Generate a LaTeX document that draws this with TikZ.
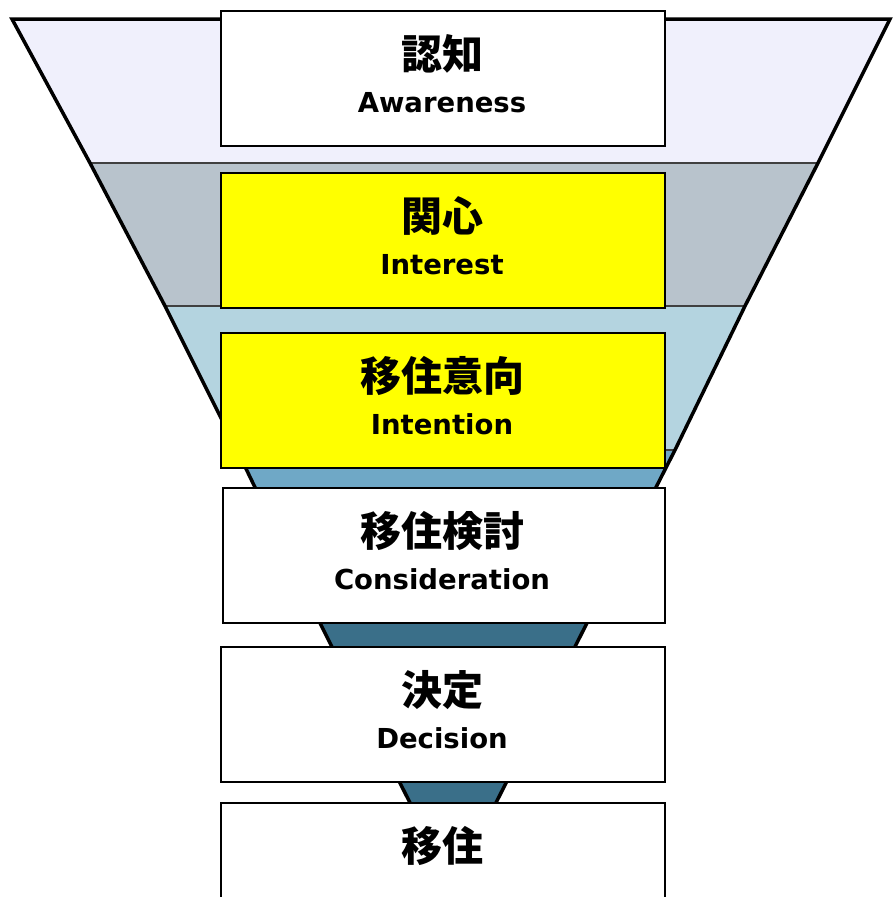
\documentclass[tikz,border=0pt]{standalone}
\usepackage{fontspec}
\newfontfamily\jpfont{Noto Sans CJK JP}
\newfontfamily\enfont{DejaVu Sans}
\definecolor{bandA}{HTML}{F0F0FC}
\definecolor{bandB}{HTML}{B8C3CC}
\definecolor{bandC}{HTML}{B4D4E0}
\definecolor{bandD}{HTML}{6FA8C6}
\definecolor{bandE}{HTML}{3A6F89}
\definecolor{sepgray}{HTML}{404040}
\definecolor{boxyellow}{HTML}{FFFF00}
\begin{document}
\begin{tikzpicture}[x=1pt,y=-1pt,
  stagebox/.style={draw=black, line width=2.2pt, anchor=north west, inner sep=0pt,
    minimum width=444pt, minimum height=135pt},
  jptext/.style={font=\jpfont\bfseries\fontsize{41}{41}\selectfont, inner sep=0pt},
  entext/.style={font=\enfont\bfseries\fontsize{27.5}{27.5}\selectfont, inner sep=0pt, anchor=base},
  sepline/.style={draw=sepgray, line width=1.5pt},
  outline/.style={draw=black, line width=3.5pt, line join=miter}]
\useasboundingbox (0,0) rectangle (893,897);
\clip (0,0) rectangle (893,897);
% funnel edge points
\coordinate (L0) at (12,19);   \coordinate (R0) at (890,19);
\coordinate (L1) at (90,163);  \coordinate (R1) at (818,163);
\coordinate (L2) at (165,306); \coordinate (R2) at (745,306);
\coordinate (L3) at (237,450); \coordinate (R3) at (675,450);
\coordinate (L4) at (290,560); \coordinate (R4) at (619,560);
\coordinate (L5) at (320,623); \coordinate (R5) at (587,623);
\coordinate (L6) at (400,783); \coordinate (R6) at (506,783);
\coordinate (L7) at (440,862); \coordinate (R7) at (466,862);
% bands
\fill[bandA] (L0) -- (R0) -- (R1) -- (L1) -- cycle;
\fill[bandB] (L1) -- (R1) -- (R2) -- (L2) -- cycle;
\fill[bandC] (L2) -- (R2) -- (R3) -- (L3) -- cycle;
\fill[bandD] (L3) -- (R3) -- (R4) -- (L4) -- cycle;
\fill[bandE] (L4) -- (R4) -- (R5) -- (R6) -- (R7) -- (L7) -- (L6) -- (L5) -- cycle;
\draw[sepline] (L1) -- (R1);
\draw[sepline] (L2) -- (R2);
\draw[sepline] (L3) -- (R3);
\draw[sepline] (L4) -- (R4);
% outline
\draw[outline] (L7) -- (L6) -- (L5) -- (L4) -- (L3) -- (L2) -- (L1) -- (L0) -- (R0)
  -- (R1) -- (R2) -- (R3) -- (R4) -- (R5) -- (R6) -- (R7);
% boxes
\node[stagebox, fill=white] (b1) at (220,10) {};
\node[stagebox, fill=boxyellow] (b2) at (220,172) {};
\node[stagebox, fill=boxyellow] (b3) at (220,332) {};
\node[stagebox, fill=white, minimum width=442pt] (b4) at (222,487) {};
\node[stagebox, fill=white] (b5) at (220,646) {};
\node[stagebox, fill=white, minimum height=140pt] (b6) at (220,802) {};
% labels
\node[jptext] (j1) at (442,54) {認知};
\node[entext] (e1) at (442,112) {Awareness};
\node[jptext] (j2) at (442,216) {関心};
\node[entext] (e2) at (442,274) {Interest};
\node[jptext] (j3) at (442,376) {移住意向};
\node[entext] (e3) at (442,434) {Intention};
\node[jptext] (j4) at (442,531) {移住検討};
\node[entext] (e4) at (442,589) {Consideration};
\node[jptext] (j5) at (442,690) {決定};
\node[entext] (e5) at (442,748) {Decision};
\node[jptext] (j6) at (442,846) {移住};
\end{tikzpicture}
\end{document}
